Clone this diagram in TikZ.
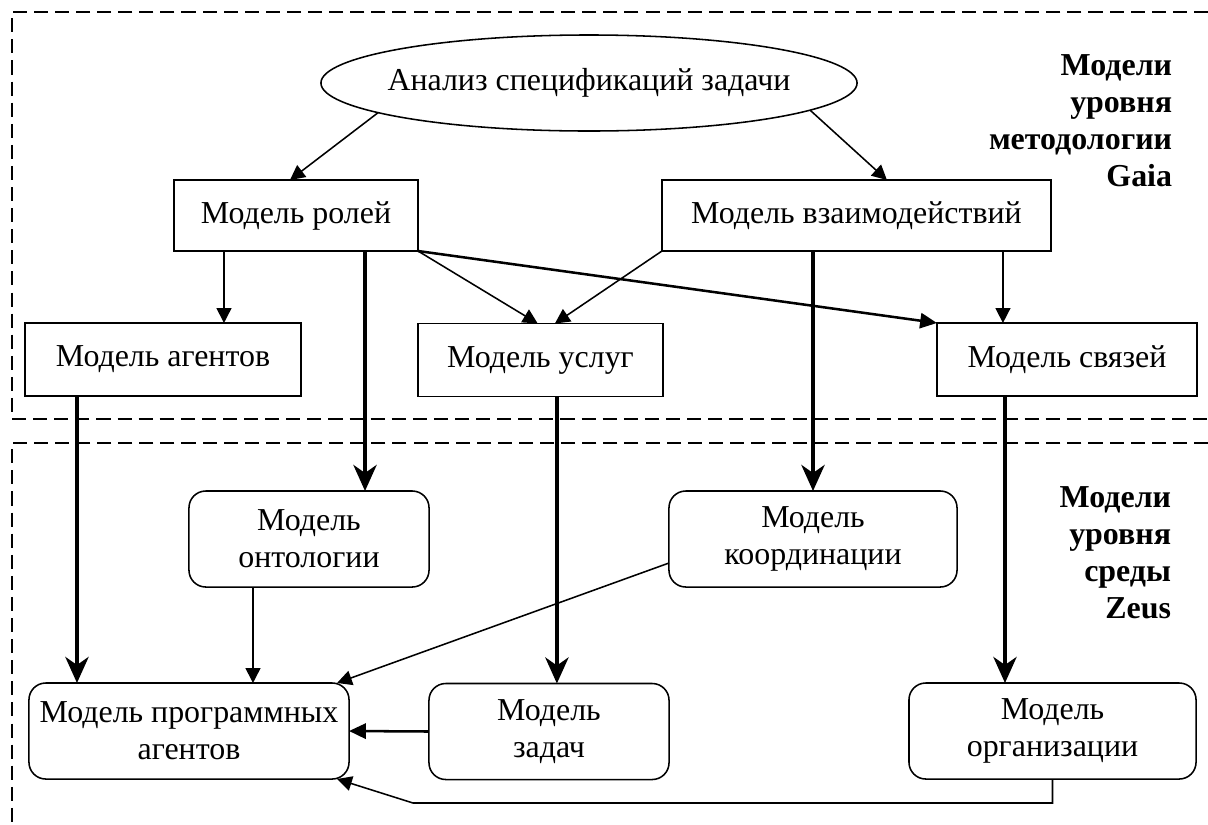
\documentclass[tikz,border=0pt]{standalone}
\usepackage{fontspec}
\setmainfont{Liberation Serif}
\usetikzlibrary{arrows.meta, shapes.geometric}

\begin{document}
\begin{tikzpicture}[
    x=0.025cm, y=-0.025cm,
    every node/.style={font=\fontsize{22.7}{26.3}\selectfont},
    box/.style={draw, line width=1.1pt, inner sep=0pt, outer sep=0pt},
    rbox/.style={box, rounded corners=0.42cm, align=center, minimum height=2.4cm},
    frame/.style={line width=1.4pt, dash pattern=on 10pt off 5pt},
    weak/.style={line width=1.1pt, -{Triangle[length=0.37cm, width=0.37cm]}},
    mid/.style={line width=1.8pt, -{Triangle[length=0.42cm, width=0.38cm]}},
    strong/.style={line width=2.85pt, -{Stealth[length=0.65cm, width=0.58cm, inset=0.2cm]}},
    level/.style={align=right, anchor=east, font=\fontsize{22.7}{26.3}\selectfont\bfseries},
  ]
    \useasboundingbox (0,0) rectangle (1208,824);

    % 两个虚线区域
    \draw[frame] (1208,12) -- (12,12) -- (12,419) -- (1208,419);
    \draw[frame] (1208,443) -- (12,443) -- (12,824);

    % 区域标题
    \node[level] (gaia) at (1177,121) {Модели\\уровня\\методологии\\Gaia};
    \node[level] (zeus) at (1176,553) {Модели\\уровня\\среды\\Zeus};

    % Gaia 层的模型
    \node[box, ellipse, inner xsep=-0.5cm, minimum width=13.4cm, minimum height=2.4cm] (spec) at (589,83) {Анализ спецификаций задачи};
    \node[box, minimum width=6.1cm, minimum height=1.775cm] (roles) at (296,215.5) {Модель ролей};
    \node[box, minimum width=9.725cm, minimum height=1.775cm] (inter) at (856.5,215.5) {Модель взаимодействий};
    \node[box, minimum width=6.9cm, minimum height=1.825cm] (agents) at (163,359.5) {Модель агентов};
    \node[box, minimum width=6.125cm, minimum height=1.825cm] (services) at (540.5,360) {Модель услуг};
    \node[box, minimum width=6.5cm, minimum height=1.825cm] (links) at (1067,359.5) {Модель связей};

    % Zeus 层的模型
    \node[rbox, minimum width=6cm] (onto) at (309,539) {Модель\\онтологии};
    \node[rbox, minimum width=7.2cm] (coord) at (813,539) {Модель\\координации};
    \node[rbox, minimum width=8cm] (prog) at (189,731) {Модель программных\\агентов};
    \node[rbox, minimum width=6cm] (tasks) at (549,731.5) {Модель\\задач};
    \node[rbox, minimum width=7.175cm] (org) at (1052.5,731) {Модель\\организации};

    % 从椭圆出发
    \draw[weak] (spec.188) -- ([xshift=-0.15cm]roles.north);
    \draw[weak] (spec.-7) -- ([xshift=0.76cm]inter.north);

    % Gaia 层内部
    \draw[weak] ([xshift=-1.8cm]roles.south) coordinate (r1) -- (r1 |- agents.north);
    \draw[weak] (roles.south east) -- ([xshift=-0.07cm]services.north);
    \draw[mid] (roles.south east) -- (links.north west);
    \draw[weak] (inter.south west) -- ([xshift=0.36cm]services.north);
    \draw[weak] ([xshift=3.66cm]inter.south) coordinate (i1) -- (i1 |- links.north);

    % 粗箭头：Gaia -> Zeus
    \draw[strong] ([xshift=1.725cm]roles.south) coordinate (r2) -- (r2 |- onto.north);
    \draw[strong] (inter.south -| coord.north) -- (coord.north);
    \draw[strong] ([xshift=-2.15cm]agents.south) coordinate (a1) -- (a1 |- prog.north);
    \draw[strong] ([xshift=0.41cm]services.south) coordinate (s1) -- (s1 |- tasks.north);
    \draw[strong] ([xshift=-1.55cm]links.south) coordinate (l1) -- (l1 |- org.north);

    % Zeus 层内部
    \draw[weak] ([xshift=-1.4cm]onto.south) coordinate (o1) -- (o1 |- prog.north);
    \draw[weak] ([yshift=-0.6cm]coord.west) -- ([xshift=-0.3cm]prog.north east);
    \draw[mid] (tasks.west) -- (prog.east);
    \coordinate (turn) at (413,803);
    \draw[weak] (org.south) |- (turn) -- ([xshift=-0.3cm]prog.south east);
  \end{tikzpicture}
\end{document}
